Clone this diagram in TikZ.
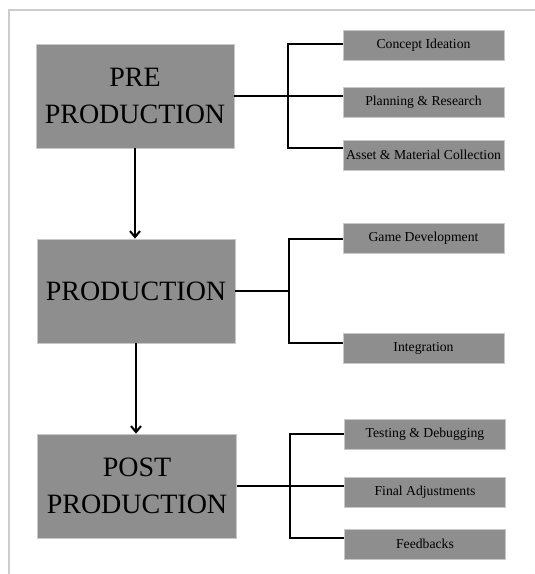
\documentclass[tikz,border=0pt]{standalone}
\usepackage{fontspec}
\setmainfont{Liberation Serif}
\newfontfamily\tnr{Liberation Serif}
\usetikzlibrary{arrows.meta}
\definecolor{boxgray}{HTML}{8E8E8E}
\definecolor{edgegray}{HTML}{C8C8C8}
\definecolor{framegray}{HTML}{CCCCCC}
\begin{document}
\begin{tikzpicture}[x=1pt,y=-1pt,
  mainbox/.style={fill=boxgray,draw=edgegray,line width=0.8pt,minimum width=198pt,minimum height=104pt,inner sep=0pt,align=center,
     font=\tnr\fontsize{28}{37.5}\selectfont},
  subbox/.style={fill=boxgray,draw=edgegray,line width=0.8pt,minimum width=161pt,minimum height=30pt,inner sep=0pt,
     font=\tnr\fontsize{13.7}{16}\selectfont},
  conn/.style={line width=2pt,black},
  flow/.style={conn,-{Straight Barb[length=6pt,width=10pt,line width=2pt]}}]
\useasboundingbox (0,0) rectangle (535,574);
\fill[white] (0,0) rectangle (535,574);
% frame
\draw[framegray,line width=2pt] (535,10) -- (9,10) -- (9,574);
% main boxes
\node[mainbox] (pre)  at (135,96)  {PRE\\PRODUCTION};
\node[mainbox] (prod) at (136,291) {PRODUCTION};
\node[mainbox,minimum width=199pt] (post) at (137,486) {POST\\PRODUCTION};
% sub boxes
\node[subbox] (concept)  at (423.5,45)  {Concept Ideation};
\node[subbox] (planning) at (423.5,102) {Planning \& Research};
\node[subbox] (asset)    at (423.5,155) {Asset \& Material Collection};
\node[subbox] (game)     at (423.5,238) {Game Development};
\node[subbox] (integ)    at (423.5,348) {Integration};
\node[subbox] (testing)  at (425,434)   {Testing \& Debugging};
\node[subbox] (final)    at (425,492)   {Final Adjustments};
\node[subbox] (feed)     at (425,544)   {Feedbacks};
% trunk x positions
\coordinate (tA) at (288,0);
\coordinate (tB) at (289,0);
\coordinate (tC) at (290,0);
% PRE group
\draw[conn] (pre.east) -- (pre.east -| planning.west);
\draw[conn] (concept.west |- pre.north) -- (tA |- pre.north) -- (tA |- pre.south) -- (asset.west |- pre.south);
% PRODUCTION group
\draw[conn] (prod.east) -- (tB |- prod.east);
\draw[conn] (game.west |- prod.north) -- (tB |- prod.north) -- (tB |- prod.south) -- (integ.west |- prod.south);
% POST group
\draw[conn] (post.east) -- (post.east -| final.west);
\draw[conn] (testing.west |- post.north) -- (tC |- post.north) -- (tC |- post.south) -- (feed.west |- post.south);
% flow arrows
\draw[flow] (pre.south) -- (pre.south |- prod.north);
\draw[flow] (prod.south) -- (prod.south |- post.north);
\end{tikzpicture}
\end{document}
